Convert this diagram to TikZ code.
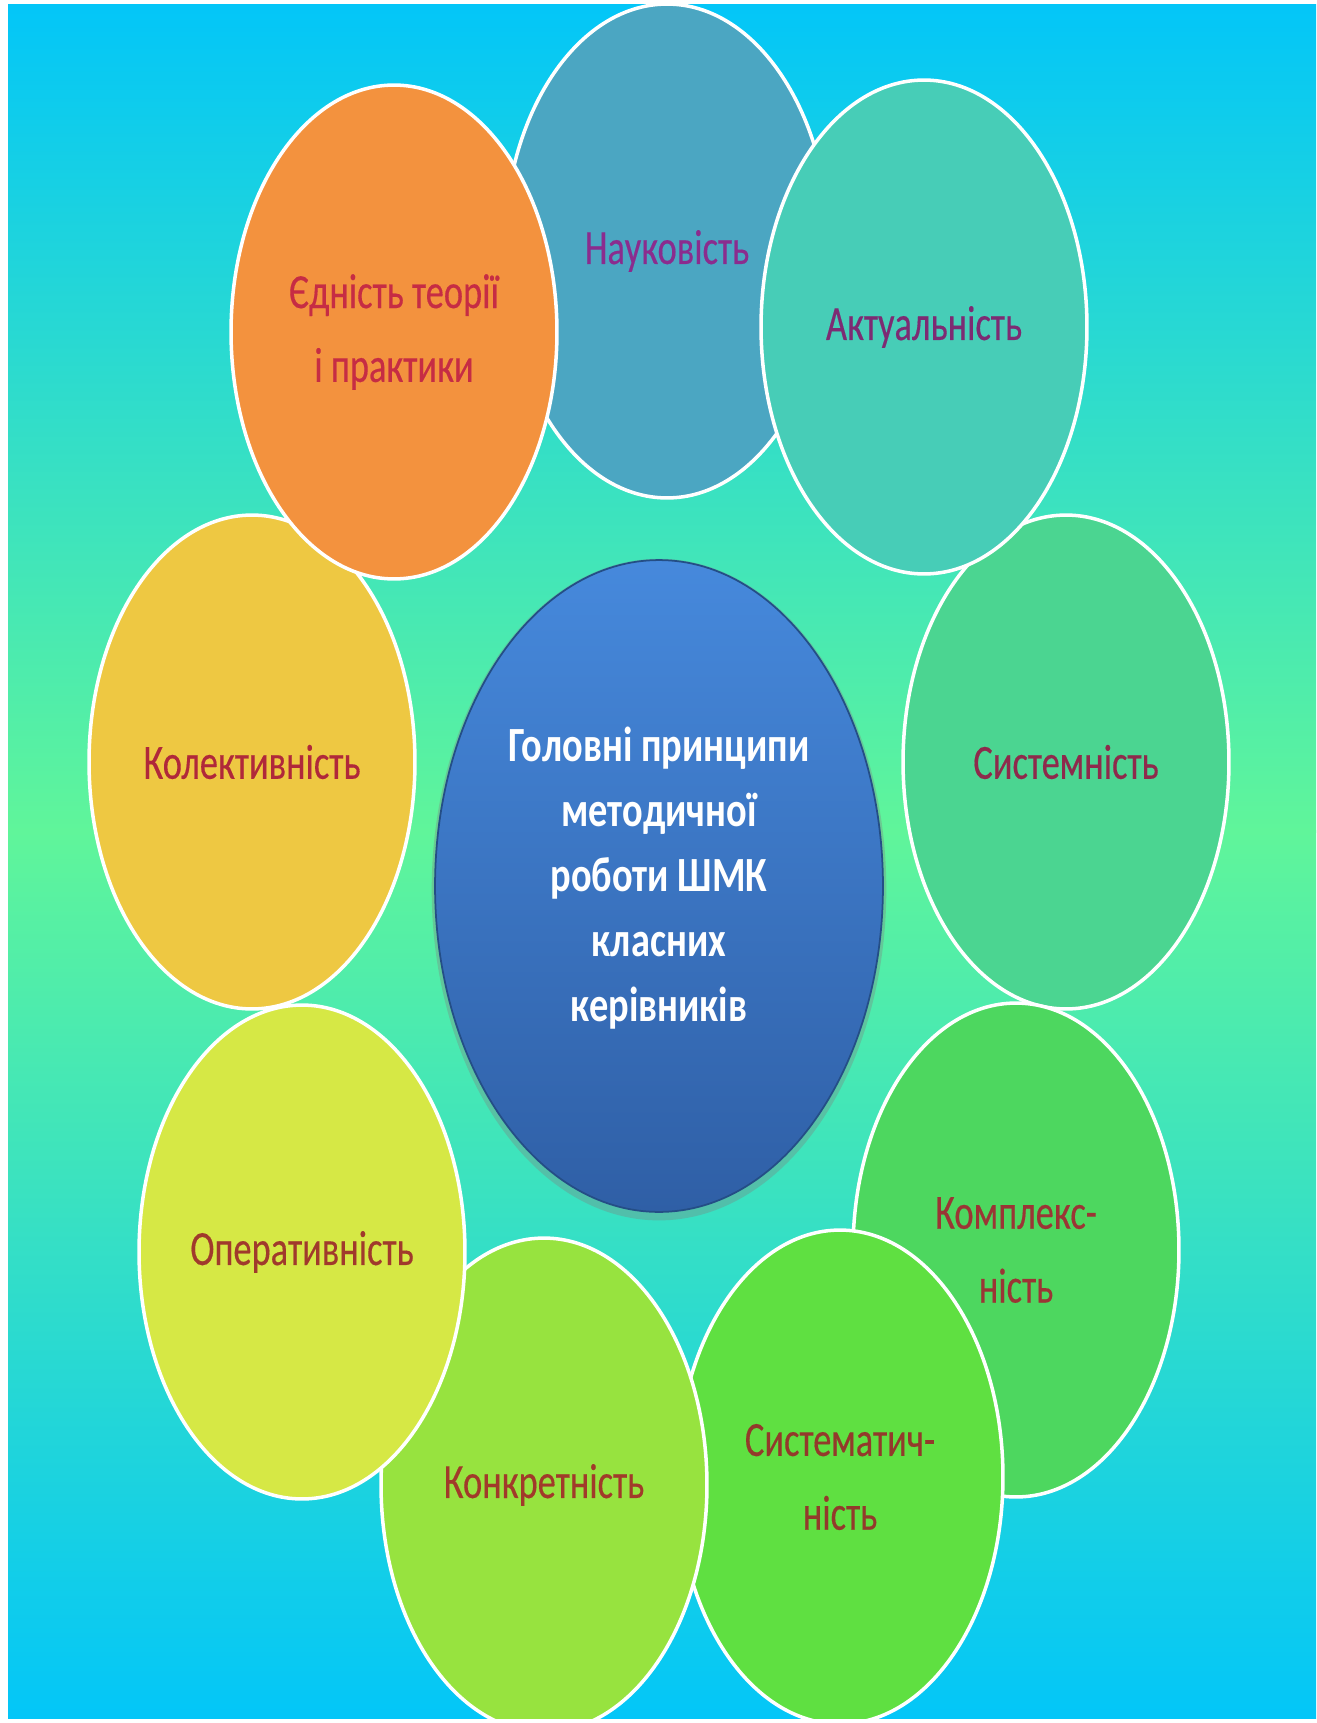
\documentclass[tikz,border=0pt]{standalone}
\usepackage{fontspec}
\setmainfont{Carlito}
\newfontfamily\lblfont[FakeStretch=0.74,FakeBold=0.3]{Carlito}
\newfontfamily\hubfont[FakeStretch=0.78]{Carlito}
\usetikzlibrary{shapes.geometric,shadows}

\definecolor{bgcyan}{HTML}{03C6F8}
\definecolor{bggreen}{HTML}{60F59A}
\definecolor{cNauk}{HTML}{4BA6C2}\definecolor{tNauk}{HTML}{8B2C8E}
\definecolor{cAkt}{HTML}{47CDB7}\definecolor{tAkt}{HTML}{7D2B73}
\definecolor{cYed}{HTML}{F3923E}\definecolor{tYed}{HTML}{C62C44}
\definecolor{cKol}{HTML}{EEC842}\definecolor{tKol}{HTML}{B0283A}
\definecolor{cSyst}{HTML}{4BD591}\definecolor{tSyst}{HTML}{8E2A4C}
\definecolor{cOper}{HTML}{D6E845}\definecolor{tOper}{HTML}{A03A2C}
\definecolor{cKonk}{HTML}{97E33F}\definecolor{tKonk}{HTML}{A13A2A}
\definecolor{cKompl}{HTML}{4DD75F}\definecolor{tKompl}{HTML}{9B3535}
\definecolor{cSystm}{HTML}{5FE041}\definecolor{tSystm}{HTML}{933A2B}
\definecolor{mainTop}{HTML}{4689DC}
\definecolor{mainBot}{HTML}{2F5FA6}
\definecolor{mainEdge}{HTML}{244E86}

\begin{document}
\begin{tikzpicture}[x=0.02cm,y=-0.02cm,
  bubble/.style={ellipse, draw=white, line width=2pt,
    minimum width=6.52cm, minimum height=9.88cm, inner sep=0pt,
    align=center, font=\lblfont\fontsize{28}{42}\selectfont},
  hub/.style={ellipse, draw=mainEdge, line width=1pt,
    top color=mainTop, bottom color=mainBot,
    drop shadow={opacity=0.35, shadow xshift=0pt, shadow yshift=-2pt, shadow scale=1.015},
    minimum width=8.96cm, minimum height=13.04cm, inner sep=0pt,
    text depth=13pt,
    align=center, text=white, font=\hubfont\bfseries\fontsize{28}{37}\selectfont}]
\useasboundingbox (0,0) rectangle (1316,1723);
\fill[white] (0,0) rectangle (1316,1723);
\shade[top color=bgcyan, bottom color=bggreen] (8,5) rectangle (1316,832);
\shade[top color=bggreen, bottom color=bgcyan] (8,830) rectangle (1316,1718);
\begin{scope}
\clip (8,5) rectangle (1316,1718);
\node[bubble, fill=cNauk, text=tNauk] (nauk) at (667,251) {Науковість};
\node[bubble, fill=cSyst, text=tSyst] (syst) at (1066,762) {Системність};
\node[bubble, fill=cAkt, text=tAkt] (akt) at (924,327) {Актуальність};
\node[bubble, fill=cKol, text=tKol] (kol) at (252,762) {Колективність};
\node[bubble, fill=cYed, text=tYed] (yed) at (394,332) {Єдність теорії\\і практики};
\node[bubble, fill=cKompl, text=tKompl] (kompl) at (1016,1250) {Комплекс-\\ність};
\node[bubble, fill=cSystm, text=tSystm] (systm) at (840,1477) {Систематич-\\ність};
\node[bubble, fill=cKonk, text=tKonk] (konk) at (544,1485) {Конкретність};
\node[bubble, fill=cOper, text=tOper] (oper) at (302,1252) {Оперативність};
\node[hub] (main) at (659,886) {Головні принципи\\методичної\\роботи ШМК\\класних\\керівників};
\end{scope}
\end{tikzpicture}
\end{document}
